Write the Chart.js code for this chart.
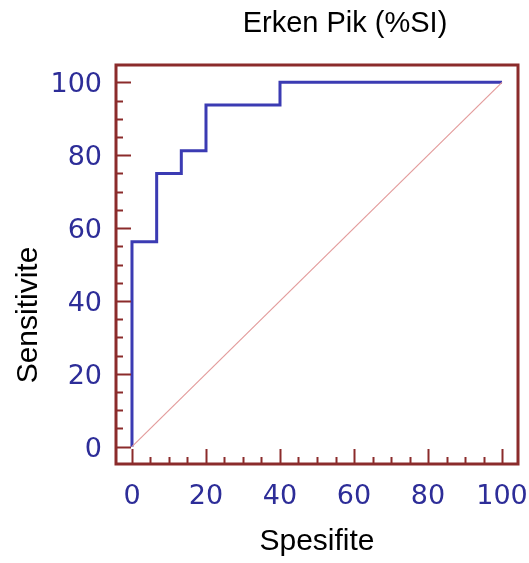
<!DOCTYPE html>
<html>
<head>
<meta charset="utf-8">
<script src="https://cdn.jsdelivr.net/npm/chart.js@4"></script>
<style>
  html, body { margin: 0; padding: 0; background: #fff; overflow: hidden; }
  canvas { display: block; }
</style>
</head>
<body>
<canvas id="roc" width="529" height="563"></canvas>
<script>
// ROC curve points (1 - specificity, sensitivity)
const rocX = [0, 0, 6.67, 13.33, 20, 40, 100];
const rocY = [0, 56.25, 75, 81.25, 93.75, 100, 100];
// reference diagonal
const diagX = [0, 100];
const diagY = [0, 100];

const tickValues = [0, 20, 40, 60, 80, 100];
const chartTitle = "Erken Pik (%SI)";
const xTitle = "Spesifite";
const yTitle = "Sensitivite";

const frameColor = "#8b2b2b";
const labelColor = "#2d2d98";
const fontFamily = "'Liberation Sans', Arial, sans-serif";

const toPoints = (xs, ys) => xs.map((x, i) => ({ x: x, y: ys[i] }));

// frame, inward ticks and titles
const framePlugin = {
  id: "frame",
  afterDraw(chart) {
    const { ctx, chartArea } = chart;
    const xs = chart.scales.x;
    const ys = chart.scales.y;
    ctx.save();
    ctx.strokeStyle = frameColor;
    ctx.lineWidth = 2;
    for (let v = 0; v <= 100; v += 5) {
      const len = v % 20 === 0 ? 15 : 7;
      const px = Math.round(xs.getPixelForValue(v)) + 0.5;
      ctx.beginPath();
      ctx.moveTo(px, chartArea.bottom);
      ctx.lineTo(px, chartArea.bottom - len);
      ctx.stroke();
      const py = Math.round(ys.getPixelForValue(v)) + 0.5;
      ctx.beginPath();
      ctx.moveTo(chartArea.left, py);
      ctx.lineTo(chartArea.left + len, py);
      ctx.stroke();
    }
    ctx.lineWidth = 3;
    ctx.strokeRect(chartArea.left, chartArea.top,
      chartArea.right - chartArea.left, chartArea.bottom - chartArea.top);

    ctx.fillStyle = "#000";
    ctx.font = "29px " + fontFamily;
    ctx.textAlign = "center";
    ctx.textBaseline = "alphabetic";
    ctx.fillText(chartTitle, 345, 32);

    ctx.font = "30px " + fontFamily;
    ctx.fillText(xTitle, (chartArea.left + chartArea.right) / 2, 550);

    ctx.translate(37, 315);
    ctx.rotate(-Math.PI / 2);
    ctx.fillText(yTitle, 0, 0);
    ctx.restore();
  }
};

const tickFont = { family: "'DejaVu Sans', sans-serif", size: 27 };

new Chart(document.querySelector("#roc"), {
  type: "scatter",
  data: {
    datasets: [
      {
        data: toPoints(diagX, diagY),
        showLine: true,
        borderColor: "#e39c9c",
        borderWidth: 1.2,
        pointRadius: 0
      },
      {
        data: toPoints(rocX, rocY),
        showLine: true,
        stepped: "before",
        borderColor: "#3b3bb3",
        borderWidth: 3,
        pointRadius: 0
      }
    ]
  },
  options: {
    responsive: false,
    animation: false,
    layout: { padding: { top: 65, right: 11, left: 0, bottom: 0 } },
    plugins: {
      legend: { display: false },
      tooltip: { enabled: false }
    },
    scales: {
      x: {
        type: "linear",
        min: -4.32,
        max: 104.32,
        afterBuildTicks: (axis) => { axis.ticks = tickValues.map((v) => ({ value: v })); },
        afterFit: (axis) => {
          axis.height = 99;
          axis.paddingLeft = 0;
          axis.paddingRight = 0;
        },
        grid: { display: false, drawTicks: false },
        border: { display: false },
        ticks: { color: labelColor, font: tickFont, padding: 17, maxRotation: 0 }
      },
      y: {
        type: "linear",
        min: -4.75,
        max: 104.75,
        afterBuildTicks: (axis) => { axis.ticks = tickValues.map((v) => ({ value: v })); },
        afterFit: (axis) => {
          axis.width = 116;
          axis.paddingTop = 0;
          axis.paddingBottom = 0;
        },
        grid: { display: false, drawTicks: false },
        border: { display: false },
        ticks: { color: labelColor, font: tickFont, padding: 14, labelOffset: 3 }
      }
    }
  },
  plugins: [framePlugin]
});
</script>
</body>
</html>
